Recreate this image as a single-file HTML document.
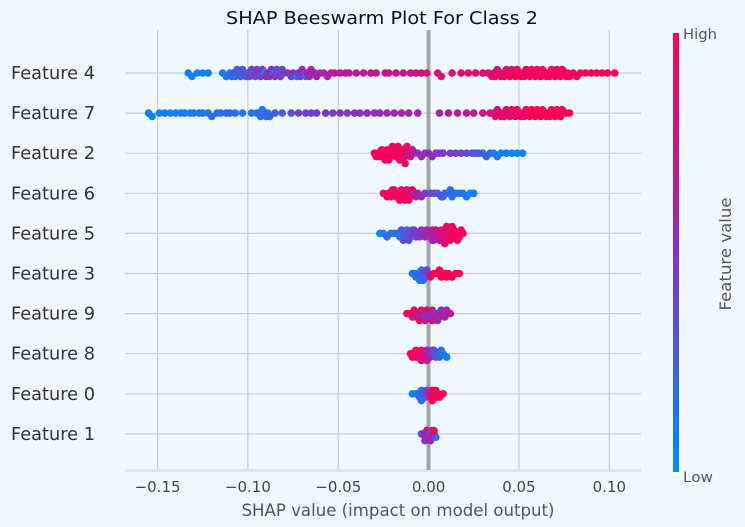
<!DOCTYPE html>
<html><head><meta charset="utf-8">
<style>
html,body{margin:0;padding:0;background:#f0f8ff;}
svg{display:block;font-family:"DejaVu Sans","Liberation Sans",sans-serif;}
</style></head>
<body>
<svg id="chart" width="745" height="527" viewBox="0 0 745 527">
  <rect x="0" y="0" width="745" height="527" fill="#f0f8ff"/>
  <text x="382" y="24" text-anchor="middle" font-size="18" textLength="312" lengthAdjust="spacingAndGlyphs" fill="#111">SHAP Beeswarm Plot For Class 2</text>
  <g id="grid"></g>
  <rect x="125" y="469" width="516" height="3" fill="#e4e4e4"/>
  <g id="ticks"></g>
  <g id="ylabels"></g>
  <rect x="426.5" y="30" width="4" height="440" fill="#999" opacity="0.85"/>
  <g id="dots"></g>
  <text x="398" y="516" text-anchor="middle" font-size="16.5" textLength="313" lengthAdjust="spacingAndGlyphs" fill="#555">SHAP value (impact on model output)</text>
  <defs>
    <linearGradient id="cb" x1="0" y1="1" x2="0" y2="0">
      <stop offset="0" stop-color="#008bfb"/>
      <stop offset="0.5" stop-color="#8a2fc0"/>
      <stop offset="1" stop-color="#ff0052"/>
    </linearGradient>
  </defs>
  <rect x="673" y="33" width="6" height="439" fill="url(#cb)"/>
  <text x="683" y="39" font-size="14" textLength="34" lengthAdjust="spacingAndGlyphs" fill="#555">High</text>
  <text x="683" y="482" font-size="14" textLength="30" lengthAdjust="spacingAndGlyphs" fill="#555">Low</text>
  <text transform="translate(731,254) rotate(-90)" text-anchor="middle" font-size="16" textLength="113" lengthAdjust="spacingAndGlyphs" fill="#555">Feature value</text>
</svg>
<script>
const features = ["Feature 4","Feature 7","Feature 2","Feature 6","Feature 5","Feature 3","Feature 9","Feature 8","Feature 0","Feature 1"];
const tickValues = [-0.15,-0.10,-0.05,0.00,0.05,0.10];
const tickLabels = ["\u22120.15","\u22120.10","\u22120.05","0.00","0.05","0.10"];
const shap4 = [-0.133,-0.131,-0.128,-0.125,-0.122,-0.114,-0.112,-0.110,-0.109,-0.108,-0.107,-0.106,-0.105,-0.104,-0.103,-0.102,-0.101,-0.100,-0.099,-0.098,-0.097,-0.096,-0.095,-0.094,-0.093,-0.092,-0.091,-0.090,-0.089,-0.088,-0.087,-0.086,-0.085,-0.084,-0.083,-0.082,-0.081,-0.080,-0.078,-0.076,-0.075,-0.073,-0.072,-0.071,-0.070,-0.069,-0.068,-0.067,-0.066,-0.065,-0.063,-0.062,-0.060,-0.058,-0.056,-0.054,-0.052,-0.049,-0.046,-0.044,-0.040,-0.036,-0.032,-0.029,-0.024,-0.022,-0.018,-0.014,-0.010,-0.007,-0.004,-0.001,0.005,0.007,0.013,0.018,0.022,0.026,0.030,0.033,0.035,0.036,0.037,0.038,0.039,0.040,0.041,0.042,0.043,0.044,0.045,0.046,0.047,0.048,0.049,0.050,0.051,0.052,0.053,0.054,0.055,0.056,0.057,0.058,0.059,0.060,0.061,0.062,0.063,0.064,0.065,0.066,0.067,0.068,0.069,0.070,0.071,0.072,0.073,0.074,0.075,0.076,0.077,0.078,0.080,0.082,0.084,0.087,0.090,0.093,0.096,0.099,0.103];
const feat4 = [0.05,0.05,0.08,0.06,0.08,0.05,0.15,0.1,0.2,0.3,0.12,0.25,0.3,0.2,0.3,0.35,0.28,0.3,0.38,0.4,0.35,0.42,0.4,0.45,0.4,0.5,0.1,0.48,0.45,0.55,0.5,0.2,0.55,0.4,0.3,0.45,0.38,0.42,0.45,0.4,0.5,0.1,0.48,0.45,0.55,0.5,0.2,0.55,0.6,0.58,0.6,0.62,0.65,0.6,0.62,0.66,0.7,0.68,0.72,0.7,0.7,0.74,0.72,0.75,0.72,0.76,0.78,0.74,0.78,0.8,0.8,0.82,0.82,0.85,0.8,0.86,0.9,0.88,0.82,0.92,0.8,0.85,0.9,0.82,0.88,0.9,0.85,0.94,0.88,0.9,0.95,0.86,0.92,0.96,0.9,0.93,0.97,0.88,0.95,0.98,0.9,0.96,0.92,0.95,0.97,0.9,0.99,0.94,0.96,1,0.93,0.97,0.95,0.99,0.98,0.96,1,0.95,0.97,0.99,1,0.98,0.96,1,0.95,0.97,0.96,0.99,0.98,0.97,1,0.98,1,1];
const shap7 = [-0.155,-0.153,-0.149,-0.146,-0.143,-0.140,-0.137,-0.135,-0.132,-0.130,-0.127,-0.125,-0.122,-0.120,-0.117,-0.115,-0.112,-0.110,-0.107,-0.103,-0.098,-0.095,-0.094,-0.093,-0.092,-0.091,-0.090,-0.089,-0.088,-0.085,-0.081,-0.076,-0.072,-0.068,-0.065,-0.062,-0.057,-0.053,-0.049,-0.045,-0.041,-0.038,-0.034,-0.030,-0.027,-0.023,-0.019,-0.015,-0.011,-0.006,0.006,0.011,0.016,0.021,0.025,0.030,0.034,0.036,0.037,0.038,0.039,0.040,0.041,0.042,0.043,0.044,0.045,0.046,0.047,0.048,0.049,0.050,0.051,0.052,0.053,0.054,0.055,0.056,0.057,0.058,0.059,0.060,0.061,0.062,0.063,0.064,0.065,0.066,0.067,0.068,0.069,0.070,0.071,0.072,0.073,0.074,0.076,0.078];
const feat7 = [0.05,0.05,0.05,0.08,0.06,0.05,0.1,0.08,0.1,0.12,0.1,0.15,0.12,0.15,0.18,0.14,0.2,0.18,0.15,0.1,0.14,0.12,0.2,0.15,0.1,0.18,0.12,0.2,0.15,0.3,0.2,0.35,0.4,0.38,0.36,0.42,0.45,0.44,0.46,0.45,0.5,0.48,0.5,0.52,0.5,0.55,0.55,0.58,0.56,0.6,0.62,0.66,0.7,0.72,0.75,0.78,0.8,0.82,0.85,0.8,0.88,0.9,0.86,0.92,0.9,0.94,0.8,0.95,0.92,0.85,0.96,0.9,0.95,0.97,0.88,0.98,0.96,0.92,0.99,1,0.94,0.98,0.96,1,0.97,0.95,0.99,1,0.98,0.96,1,0.97,0.99,1,0.98,1,0.99,1];
const shap2 = [-0.030,-0.029,-0.028,-0.027,-0.026,-0.025,-0.024,-0.023,-0.022,-0.021,-0.020,-0.019,-0.018,-0.017,-0.016,-0.015,-0.014,-0.013,-0.012,-0.011,-0.010,-0.009,-0.008,-0.022,-0.020,-0.018,-0.016,-0.014,-0.012,-0.024,-0.017,-0.013,-0.006,-0.004,-0.002,0.000,0.002,0.004,0.006,0.008,0.012,0.015,0.018,0.021,0.024,0.026,0.028,0.030,0.032,0.034,0.036,0.038,0.040,0.043,0.046,0.049,0.052];
const feat2 = [0.98,1,0.95,0.97,1,0.9,0.98,0.95,1,0.92,0.96,0.9,0.98,0.88,0.94,0.85,0.92,0.8,0.88,0.75,0.82,0.7,0.65,0.95,1,0.9,0.98,0.85,0.92,1,0.96,0.9,0.6,0.55,0.5,0.55,0.5,0.45,0.48,0.45,0.42,0.4,0.38,0.35,0.3,0.25,0.32,0.2,0.15,0.25,0.1,0.12,0.05,0.08,0.04,0.03,0.05];
const shap6 = [-0.025,-0.023,-0.022,-0.021,-0.020,-0.019,-0.018,-0.017,-0.016,-0.015,-0.014,-0.013,-0.012,-0.011,-0.010,-0.009,-0.008,-0.007,-0.006,-0.019,-0.016,-0.013,-0.011,-0.004,-0.002,0.001,0.003,0.005,0.007,0.009,0.011,0.013,0.015,0.017,0.019,0.021,0.023,0.025,0.008,0.012];
const feat6 = [1,0.95,1,0.92,0.98,1,0.9,0.96,1,0.88,0.95,0.92,0.85,0.9,0.8,0.88,0.75,0.7,0.65,1,0.95,0.9,0.98,0.55,0.45,0.4,0.35,0.3,0.25,0.3,0.2,0.15,0.2,0.1,0.12,0.08,0.05,0.06,0.2,0.15];
const shap5 = [-0.027,-0.025,-0.023,-0.021,-0.019,-0.017,-0.016,-0.015,-0.014,-0.013,-0.012,-0.011,-0.010,-0.009,-0.008,-0.007,-0.006,-0.005,-0.004,-0.003,-0.002,-0.001,0.000,0.001,0.002,0.003,0.004,0.005,0.006,0.007,0.008,0.009,0.010,0.011,0.012,0.013,0.014,0.015,0.016,0.017,0.018,0.019,-0.014,-0.011,-0.008,0.002,0.004,0.006,0.008,0.010,0.012,0.014,0.003,0.009,0.013,0.016];
const feat5 = [0.05,0.1,0.15,0.2,0.12,0.25,0.1,0.3,0.2,0.35,0.25,0.3,0.4,0.35,0.45,0.4,0.5,0.45,0.55,0.5,0.6,0.55,0.65,0.6,0.7,0.65,0.75,0.7,0.8,0.75,0.85,0.8,0.9,0.85,0.95,0.9,1,0.95,0.9,1,0.95,1,0.3,0.35,0.4,0.6,0.8,0.7,0.9,0.95,1,0.9,0.55,0.85,1,0.95];
const shap3 = [-0.009,-0.008,-0.007,-0.006,-0.005,-0.004,-0.003,-0.002,-0.001,0.000,0.001,0.003,0.005,0.007,0.009,0.011,0.013,0.015,0.017,-0.005,-0.003,0.006,0.010];
const feat3 = [0.1,0.15,0.2,0.1,0.25,0.15,0.3,0.2,0.4,0.5,0.9,1,0.95,1,0.98,1,0.95,1,0.98,0.1,0.2,1,0.95];
const shap9 = [-0.012,-0.010,-0.009,-0.008,-0.007,-0.006,-0.005,-0.004,-0.003,-0.002,-0.001,0.000,0.001,0.002,0.003,0.004,0.005,0.006,0.007,0.008,0.009,0.010,0.012,-0.008,-0.005,-0.002,0.002,0.005];
const feat9 = [1,0.95,0.8,1,0.6,0.9,0.5,0.85,0.7,0.4,0.9,0.6,0.5,0.8,0.45,0.7,0.55,0.65,0.5,0.75,0.6,0.55,0.7,0.9,1,0.6,0.8,0.5];
const shap8 = [-0.010,-0.009,-0.008,-0.007,-0.006,-0.005,-0.004,-0.003,-0.002,-0.001,0.000,0.001,0.002,0.003,0.004,0.005,0.006,0.007,0.008,0.010,-0.007,-0.004,-0.001,0.003];
const feat8 = [1,0.95,1,0.9,0.98,0.85,0.95,0.8,0.9,0.7,0.6,0.5,0.45,0.35,0.3,0.25,0.2,0.15,0.1,0.05,1,0.9,0.7,0.3];
const shap0 = [-0.009,-0.007,-0.006,-0.005,-0.004,-0.003,-0.002,-0.001,0.000,0.001,0.002,0.003,0.004,0.005,0.006,0.008,-0.004,0.002,0.004];
const feat0 = [0.05,0.1,0.15,0.2,0.1,0.25,0.3,0.4,0.7,0.9,1,0.95,1,0.9,0.98,1,0.15,1,0.95];
const shap1 = [-0.004,-0.003,-0.002,-0.001,0.000,0.001,0.002,0.003,0.004,-0.002,0.001,0.003];
const feat1 = [0.2,0.6,0.5,0.9,0.4,0.7,0.3,1,0.15,0.5,0.6,1];
const shapRows = [shap4,shap7,shap2,shap6,shap5,shap3,shap9,shap8,shap0,shap1];
const featRows = [feat4,feat7,feat2,feat6,feat5,feat3,feat9,feat8,feat0,feat1];

const NS = "http://www.w3.org/2000/svg";
const x = v => 428.6 + v * 1807;
const y = i => 73 + i * 40.1;
function color(t){
  const a=[0,139,251], m=[138,47,192], b=[255,0,82];
  let c;
  if(t<0.5){const k=t/0.5;c=a.map((v,j)=>v+(m[j]-v)*k);}else{const k=(t-0.5)/0.5;c=m.map((v,j)=>v+(b[j]-v)*k);}
  return "rgb("+c.map(Math.round).join(",")+")";
}
function mk(tag,attrs){const e=document.createElementNS(NS,tag);for(const k in attrs)e.setAttribute(k,attrs[k]);return e;}
const grid=document.getElementById("grid"), ticks=document.getElementById("ticks"), ylab=document.getElementById("ylabels"), dots=document.getElementById("dots");
tickValues.forEach((v,i)=>{
  const l=mk("line",{x1:x(v),x2:x(v),y1:30,y2:469,stroke:"#cccccc","stroke-width":1.2});
  
  
  grid.appendChild(l);
  const t=mk("text",{x:x(v),y:492,"text-anchor":"middle","font-size":15,fill:"#444"});
  t.textContent=tickLabels[i];
  
  
  ticks.appendChild(t);
});
features.forEach((f,i)=>{
  const l=mk("line",{x1:125,x2:641,y1:y(i),y2:y(i),stroke:"#cccccc","stroke-width":1.2});
  
  
  grid.appendChild(l);
  const t=mk("text",{x:11,y:y(i)+6,"font-size":17.5,textLength:84,lengthAdjust:"spacingAndGlyphs",fill:"#333"});
  t.textContent=f;
  
  
  ylab.appendChild(t);
});
shapRows.forEach((xs,i)=>{
  const fv=featRows[i];
  const bins={};
  xs.forEach((v,j)=>{
    const px=x(v), b=Math.round(px/5);
    const n=bins[b]||0; bins[b]=n+1;
    const off=(n%2?1:-1)*Math.ceil(n/2)*3.4;
    const c=mk("circle",{cx:px,cy:y(i)+Math.max(-13,Math.min(13,off)),r:3.8,fill:color(fv[j])});
    
    
    dots.appendChild(c);
  });
});
</script>
</body></html>
